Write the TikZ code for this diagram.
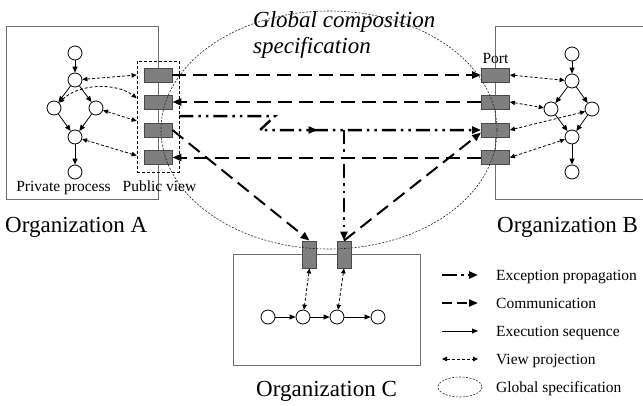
\documentclass[tikz,border=0pt]{standalone}
\usepackage{fontspec}
\setmainfont{Liberation Serif}
\usetikzlibrary{arrows.meta,decorations.markings,calc}
\definecolor{boxgray}{HTML}{6E6E6E}
\definecolor{portfill}{HTML}{7F7F7F}
\definecolor{portedge}{HTML}{4A4A4A}
\begin{document}
\begin{tikzpicture}[x=1pt,y=-1pt,
  orgbox/.style={draw=boxgray,line width=1pt,rectangle,inner sep=0pt},
  pvbox/.style={draw=black,line width=0.7pt,dash pattern=on 3pt off 2pt,rectangle,inner sep=0pt,minimum width=42pt,minimum height=111pt},
  proc/.style={circle,draw,line width=0.8pt,minimum size=14pt,inner sep=0pt,fill=white},
  hport/.style={rectangle,draw=portedge,fill=portfill,line width=0.8pt,minimum width=28pt,minimum height=14pt,inner sep=0pt},
  vport/.style={rectangle,draw=portedge,fill=portfill,line width=0.8pt,minimum width=14pt,minimum height=27pt,inner sep=0pt},
  exec/.style={line width=0.8pt,-{Triangle[length=6pt,width=5pt]}},
  viewproj/.style={line width=0.8pt,dash pattern=on 3pt off 2pt,{Triangle[length=5pt,width=4.5pt]}-{Triangle[length=5pt,width=4.5pt]}},
  comm/.style={line width=2pt,dash pattern=on 14pt off 7pt,-{Triangle[length=9pt,width=7pt]}},
  excp/.style={line width=2.5pt,dash pattern=on 14pt off 5pt on 2.5pt off 5pt on 2.5pt off 5pt,-{Triangle[length=9pt,width=7pt]}},
  globspec/.style={draw=black!85,line width=0.6pt,dash pattern=on 2pt off 1.5pt},
  biglbl/.style={font=\fontsize{23}{26}\selectfont,inner sep=0pt},
  smalllbl/.style={font=\fontsize{15.5}{18}\selectfont,inner sep=0pt},
  legtext/.style={font=\fontsize{15.5}{18}\selectfont,inner sep=0pt,anchor=base west},
]
\useasboundingbox (0,0) rectangle (643,405);
\clip (0,0) rectangle (643,405);

% organisation boxes
\node[orgbox,minimum width=152pt,minimum height=173pt] (orgA) at (82,112.5) {};
\node[orgbox,minimum width=155pt,minimum height=173pt] (orgB) at (572.5,112.5) {};
\node[orgbox,minimum width=187pt,minimum height=111pt] (orgC) at (326.5,309.5) {};
\node[pvbox] (pv) at (158,116.5) {};

% private process A
\node[proc] (a1) at (75,53) {};
\node[proc] (a2) at (75,80) {};
\node[proc] (al) at (54,108) {};
\node[proc] (ar) at (96,108) {};
\node[proc] (a4) at (75,137) {};
\node[proc] (a5) at (75,172) {};
\draw[exec] (a1) -- (a2);
\draw[exec] (a2) -- (al);
\draw[exec] (a2) -- (ar);
\draw[exec] (al) -- (a4);
\draw[exec] (ar) -- (a4);
\draw[exec] (a4) -- (a5);

% private process B
\node[proc] (b1) at (572,54) {};
\node[proc] (b2) at (572,81) {};
\node[proc] (bl) at (551,109) {};
\node[proc] (br) at (592,109) {};
\node[proc] (b4) at (572,137) {};
\node[proc] (b5) at (572,172) {};
\draw[exec] (b1) -- (b2);
\draw[exec] (b2) -- (bl);
\draw[exec] (b2) -- (br);
\draw[exec] (bl) -- (b4);
\draw[exec] (br) -- (b4);
\draw[exec] (b4) -- (b5);

% private process C
\node[proc] (c1) at (268,317) {};
\node[proc] (c2) at (303,317) {};
\node[proc] (c3) at (337,317) {};
\node[proc] (c4) at (378,317) {};
\draw[exec] (c1) -- (c2);
\draw[exec] (c2) -- (c3);
\draw[exec] (c3) -- (c4);

% ports
\node[hport] (pa1) at (158,75) {};
\node[hport] (pa2) at (158,102) {};
\node[hport] (pa3) at (158,130) {};
\node[hport] (pa4) at (158,157.5) {};
\node[hport] (pb1) at (495.5,75) {};
\node[hport] (pb2) at (495.5,102) {};
\node[hport] (pb3) at (495.5,130) {};
\node[hport] (pb4) at (495.5,157.5) {};
\node[vport] (pc1) at (309.5,254.5) {};
\node[vport] (pc2) at (344,254.5) {};

% view projections
\coordinate (va1) at (pv.west |- pa1.west);
\coordinate (va2) at ($(pv.west |- pa2.west)+(0,-4)$);
\coordinate (va3) at ($(pv.west |- pa3.west)+(0,-9)$);
\coordinate (va4) at ($(pv.west |- pa4.west)+(0,-2)$);
\draw[viewproj] (a2) -- (va1);
\draw[viewproj] (al.north east) .. controls (78,84) and (115,82) .. (va2);
\draw[viewproj] (ar) -- (va3);
\draw[viewproj] (a4) -- (va4);
\draw[viewproj] (pb1.east) -- (b2);
\draw[viewproj] (pb2.east) -- (bl);
\draw[viewproj] (pb3.east) -- (br.200);
\draw[viewproj] (pb4.east) -- (b4);
\draw[viewproj] (pc1.south) -- (c2);
\draw[viewproj] (pc2.south) -- (c3);

% global specification
\draw[globspec] (329,130) ellipse [x radius=168, y radius=119];

% communication
\draw[comm] (pa1.east) -- (pb1.west);
\draw[comm] (pb2.west) -- (pa2.east);
\draw[comm] (pb4.west) -- (pa4.east);
\draw[comm] (pa3.east) -- (pc1.north);
\draw[comm] (pc2.north) -- (pb3.190);

% exception propagation
\coordinate (ex0) at (pv.east |- 0,116);
\coordinate (ex1) at (275,116);
\coordinate (ex2) at (260,130);
\coordinate (exb) at (pc2.north |- ex2);
\draw[excp,postaction={decorate},decoration={markings,mark=at position 0.515 with {\arrow{Triangle[length=9pt,width=7pt]}}}] (ex0) -- (ex1) -- (ex2) -- (pb3.west);
\draw[excp] (exb) -- (pc2.north);

% labels
\node[smalllbl,anchor=base] (lpp) at (63.5,191) {Private process};
\node[smalllbl,anchor=base] (lpv) at (159.5,191) {Public view};
\node[smalllbl,anchor=base] (lport) at (495.5,63) {Port};
\node[biglbl,anchor=base west] (lA) at (5,232.5) {Organization A};
\node[biglbl,anchor=base west] (lB) at (497,232.5) {Organization B};
\node[biglbl,anchor=base west] (lC) at (256,396) {Organization C};
\node[biglbl,anchor=base west,font=\fontsize{23}{26}\selectfont\itshape] (lg1) at (253,27) {Global composition};
\node[biglbl,anchor=base west,font=\fontsize{23}{26}\selectfont\itshape] (lg2) at (253,53) {specification};

% legend
\coordinate (le1a) at (442,275); \coordinate (le1b) at (478,275);
\coordinate (le2a) at (442,303); \coordinate (le2b) at (478,303);
\coordinate (le3a) at (442,331); \coordinate (le3b) at (478,331);
\coordinate (le4a) at (442,359); \coordinate (le4b) at (478,359);
\draw[excp,dash pattern=on 15pt off 4pt on 2.5pt off 4pt] (le1a) -- (le1b);
\draw[comm,dash pattern=on 10pt off 5pt] (le2a) -- (le2b);
\draw[exec] (le3a) -- (le3b);
\draw[viewproj] (le4a) -- (le4b);
\draw[globspec] (460,387) ellipse [x radius=22, y radius=10];
\node[legtext] (t1) at (496,280.5) {Exception propagation};
\node[legtext] (t2) at (496,308.5) {Communication};
\node[legtext] (t3) at (496,336.5) {Execution sequence};
\node[legtext] (t4) at (496,364.5) {View projection};
\node[legtext] (t5) at (496,392.5) {Global specification};
\end{tikzpicture}
\end{document}
